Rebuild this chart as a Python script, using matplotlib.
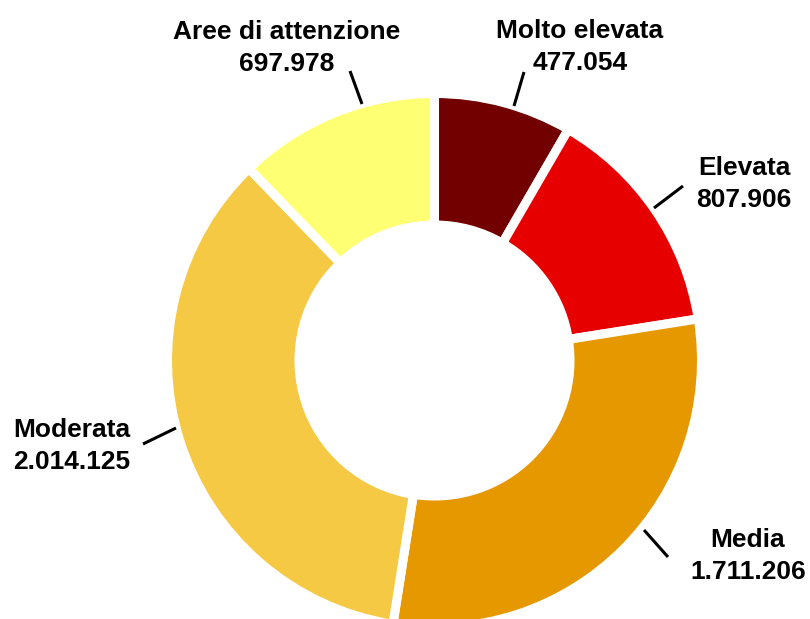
import matplotlib.pyplot as plt

labels = ['Molto elevata', 'Elevata', 'Media', 'Moderata', 'Aree di attenzione']
values = [477054, 807906, 1711206, 2014125, 697978]
value_text = ['477.054', '807.906', '1.711.206', '2.014.125', '697.978']
colors = ['#730000', '#E60000', '#E69800', '#F5C944', '#FFFF73']

# centre of each two-line label and leader line ends, in pixels from top-left
label_pos = [(580, 47), (744, 184), (748, 556), (72, 446), (287, 48)]
leaders = [((524, 72), (514, 106)),
           ((683, 186), (654, 208)),
           ((644, 530), (668, 557)),
           ((143, 444), (176, 428)),
           ((350, 71), (362, 104))]

W, H = 810, 619
fig = plt.figure(figsize=(W / 100, H / 100), dpi=100)
ax = fig.add_axes([0, 0, 1, 1])

cx, cy = 434.5, H - 360.5
ax.pie(values, colors=colors, startangle=90, counterclock=False,
       radius=267, center=(cx, cy),
       wedgeprops=dict(width=131.5, edgecolor='white', linewidth=6.5))

ax.set_xlim(0, W)
ax.set_ylim(0, H)
ax.set_aspect('equal')
ax.axis('off')

for lab, val, (x, y), ((x0, y0), (x1, y1)) in zip(labels, value_text, label_pos, leaders):
    ax.text(x, H - y, lab + '\n' + val, ha='center', va='center',
            fontsize=19, fontweight='bold', family='Liberation Sans',
            linespacing=1.4)
    ax.plot([x0, x1], [H - y0, H - y1], color='black', lw=2.2,
            solid_capstyle='butt')

fig.savefig('out.png', dpi=100)
